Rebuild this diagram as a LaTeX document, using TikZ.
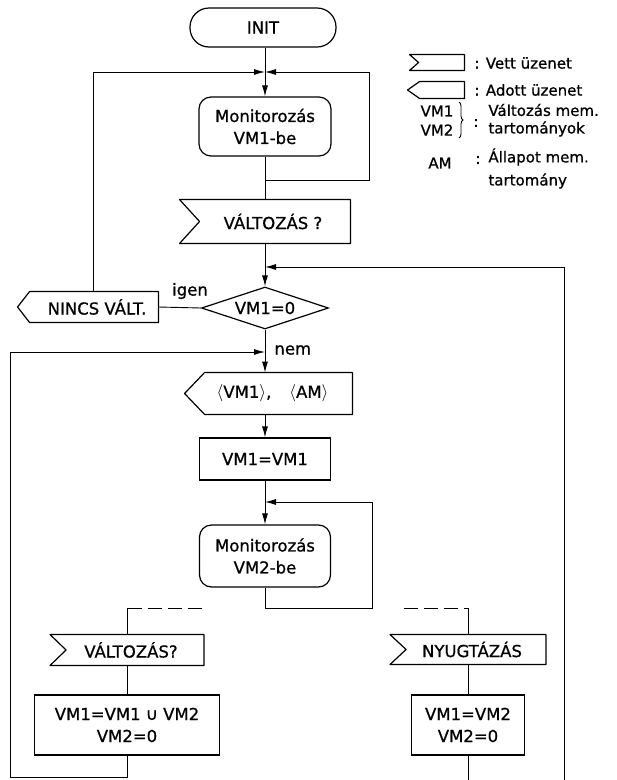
\documentclass[tikz,border=0pt]{standalone}
\usepackage{fontspec}
\setmainfont{DejaVu Sans}[FakeBold=0.8]
\usetikzlibrary{arrows.meta,shapes.geometric,decorations.pathreplacing}
\newcommand\recvshape[2]{\draw[outl] (#1.north west) -- (#1.north east) -- (#1.south east) -- (#1.south west) -- ([xshift=#2]#1.west) -- cycle;}
\newcommand\sendshape[2]{\draw[outl] ([xshift=#2]#1.north west) -- (#1.north east) -- (#1.south east) -- ([xshift=#2]#1.south west) -- (#1.west) -- cycle;}
\begin{document}
\begin{tikzpicture}[x=1pt,y=-1pt,
  every node/.style={font=\fontsize{16.5}{22}\selectfont, align=center, inner sep=0pt},
  legtxt/.style={font=\fontsize{15}{18}\selectfont},
  outl/.style={line width=1.2pt, line join=round},
  proc/.style={draw, line width=1.2pt, rectangle},
  term/.style={draw, line width=1.2pt, rectangle, rounded corners=19pt},
  monbox/.style={draw, line width=1.2pt, rectangle, rounded corners=12pt},
  msg/.style={rectangle},
  dia/.style={draw, line width=1.2pt, diamond, aspect=3, minimum width=127pt, minimum height=42pt},
  arr/.style={-{Latex[length=11pt,width=6pt]}},
  dashln/.style={dash pattern=on 14pt off 6pt},
  every path/.style={line width=0.9pt}
]
\useasboundingbox (0,0) rectangle (617,780);

% main column
\node[term, minimum width=146pt, minimum height=39pt] (init) at (263,27.5) {INIT};
\node[monbox, minimum width=132pt, minimum height=59pt] (mon1) at (265,126.5) {Monitorozás\\VM1-be};
\node[msg, minimum width=170pt, minimum height=43pt] (chg1) at (265,221.5) {\hspace*{16pt}VÁLTOZÁS ?};
\recvshape{chg1}{20pt}
\node[dia] (dia) at (265,308) {VM1=0};
\node[msg, minimum width=140pt, minimum height=30pt] (nincs) at (88,307) {\hspace*{18pt}NINCS VÁLT.};
\sendshape{nincs}{12pt}
\node[msg, minimum width=167pt, minimum height=41pt] (out1) at (268.5,393.5) {\hspace*{8pt}$\langle$VM1$\rangle$,\hspace{18pt}$\langle$AM$\rangle$};
\sendshape{out1}{20pt}
\node[proc, minimum width=131pt, minimum height=42pt] (asg1) at (265,459) {VM1=VM1};
\node[monbox, minimum width=131pt, minimum height=62pt] (mon2) at (265,556) {Monitorozás\\VM2-be};

% branches
\node[msg, minimum width=153pt, minimum height=30pt] (chg2) at (127,650) {\hspace*{8pt}VÁLTOZÁS?};
\recvshape{chg2}{16pt}
\node[proc, minimum width=185pt, minimum height=60pt] (asg2) at (127,725) {VM1=VM1 ∪ VM2\\VM2=0};
\node[msg, minimum width=155pt, minimum height=29pt] (ack) at (468,649.5) {\hspace*{8pt}NYUGTÁZÁS};
\recvshape{ack}{16pt}
\node[proc, minimum width=113pt, minimum height=60pt] (asg3) at (468,725) {VM1=VM2\\VM2=0};

% coordinates
\coordinate (j1) at (265,72);
\coordinate (lt) at (93,72);
\coordinate (rt) at (369,72);
\coordinate (rb) at (369,180);
\coordinate (j1b) at (265,180);
\coordinate (j2) at (265,267);
\coordinate (rr) at (564,267);
\coordinate (rbot) at (564,780);
\coordinate (j3) at (265,352);
\coordinate (ll) at (10,352);
\coordinate (lbot) at (10,777);
\coordinate (j4) at (265,502);
\coordinate (r4t) at (372,502);
\coordinate (r4b) at (372,608);
\coordinate (j5) at (265,608);
\coordinate (dl1) at (202,608);
\coordinate (dl2) at (127,608);
\coordinate (dr1) at (404,608);
\coordinate (dr2) at (468,608);
\coordinate (b3) at (468,780);

% connectors
\draw (init.south -| j1) -- (j1);
\draw[arr] (j1) -- (mon1.north);
\draw (mon1.south) -- (chg1.north);
\draw[arr] (j1b) -- (rb) -- (rt) -- (j1);
\draw[arr] (nincs.north -| lt) -- (lt) -- (j1);
\draw (chg1.south) -- (j2);
\draw[arr] (j2) -- (dia.north);
\draw[arr] (rbot) -- (rr) -- (j2);
\draw (dia.west) -- (nincs.east);
\node (igen) at (190,291) {igen};
\draw (dia.south) -- (j3);
\node[anchor=west] (nem) at (274,350) {nem};
\draw[arr] (j3) -- (out1.north -| j3);
\draw[arr] (out1.south -| j3) -- (asg1.north);
\draw (asg1.south) -- (j4);
\draw[arr] (j4) -- (mon2.north);
\draw[arr] (mon2.south) -- (j5) -- (r4b) -- (r4t) -- (j4);
\draw[dashln] (dl1) -- (dl2);
\draw (dl2) -- (chg2.north);
\draw[dashln] (dr1) -- (dr2);
\draw (dr2) -- (ack.north);
\draw (chg2.south) -- (asg2.north);
\draw[arr] (asg2.south) -- (asg2.south |- lbot) -- (lbot) -- (ll) -- (j3);
\draw (ack.south) -- (asg3.north);
\draw (asg3.south) -- (b3);

% legend
\node[msg, minimum width=54pt, minimum height=15pt] (lgr) at (437,62.5) {};
\recvshape{lgr}{9pt}
\node[legtxt, anchor=west] (lgrt) at (474,63) {: Vett üzenet};
\node[msg, minimum width=56pt, minimum height=16pt] (lgs) at (436,90) {};
\sendshape{lgs}{12pt}
\node[legtxt, anchor=west] (lgst) at (474,90) {: Adott üzenet};
\node[legtxt] (lvm1) at (437,111) {VM1};
\node[legtxt] (lvm2) at (437,130) {VM2};
\draw[decorate, decoration={brace, amplitude=4pt}] (459,102) -- (459,138);
\node[legtxt] (lcol) at (476,123) {:};
\node[legtxt, anchor=west] (lvt1) at (488,110) {Változás mem.};
\node[legtxt, anchor=west] (lvt2) at (488,129) {tartományok};
\node[legtxt] (lam) at (440,163) {AM};
\node[legtxt] (lcol2) at (478,160) {:};
\node[legtxt, anchor=west] (lat1) at (488,157) {Állapot mem.};
\node[legtxt, anchor=west] (lat2) at (488,181) {tartomány};
\end{tikzpicture}
\end{document}
